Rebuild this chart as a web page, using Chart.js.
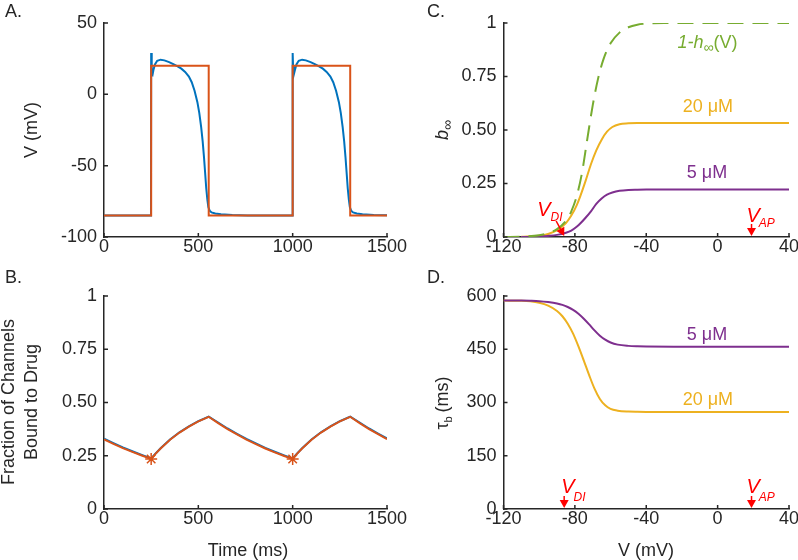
<!DOCTYPE html>
<html>
<head>
<meta charset="utf-8">
<script src="https://cdn.jsdelivr.net/npm/chart.js@4.4.1/dist/chart.umd.min.js"></script>
<style>
  html, body { margin: 0; padding: 0; background: #fff; }
  #wrap { position: relative; width: 798px; height: 560px; }
  #wrap canvas { position: absolute; left: 0; top: 0; }
</style>
</head>
<body>
<div id="wrap">
  <canvas id="chart-a" width="798" height="560"></canvas>
  <canvas id="chart-b" width="798" height="560"></canvas>
  <canvas id="chart-c" width="798" height="560"></canvas>
  <canvas id="chart-d" width="798" height="560"></canvas>
</div>
<script>
// ---------- Panel A: action potential (blue) and square clamp (orange)
const apTime = [0, 249, 250, 252, 254, 257, 262, 270, 282, 300, 320, 345, 370, 390, 410, 430, 450, 465, 480, 495,
  505, 515, 523, 530, 536, 542, 548, 553, 560, 570, 590, 620, 680, 760, 999,
  1000, 1002, 1004, 1007, 1012, 1020, 1032, 1050, 1070, 1095, 1120, 1140, 1160, 1180, 1200, 1215, 1230, 1245,
  1255, 1265, 1273, 1280, 1286, 1292, 1298, 1303, 1310, 1320, 1340, 1370, 1430, 1500];
const apVolt = [-85, -85, 29, 20, 14, 13.5, 17, 21, 23.5, 24.3, 23.8, 22.6, 21, 19.6, 18, 15.7, 12.5, 8.5, 2.5, -5.5,
  -13, -23, -33, -44, -55, -66, -74, -79, -81.5, -82.8, -83.5, -84.1, -84.6, -84.9, -85,
  29, 20, 14, 13.5, 17, 21, 23.5, 24.3, 23.8, 22.6, 21, 19.6, 18, 15.7, 12.5, 8.5, 2.5, -5.5,
  -13, -23, -33, -44, -55, -66, -74, -79, -81.5, -82.8, -83.5, -84.1, -84.6, -84.8];
const clampTime = [0, 250, 250, 555, 555, 1000, 1000, 1305, 1305, 1500];
const clampVolt = [-85, -85, 20, 20, -85, -85, 20, 20, -85, -85];
const aXTicks = [0, 500, 1000, 1500];
const aYTicks = [-100, -50, 0, 50];

// ---------- Panel B: fraction of channels bound to drug
const bTime = [0, 50, 100, 150, 200, 250, 275, 300, 350, 400, 450, 500, 555, 605, 655, 705, 755, 805, 855, 905, 955,
  1000, 1025, 1050, 1100, 1150, 1200, 1250, 1305, 1355, 1405, 1455, 1500];
const bBoundBlue = [0.330, 0.309, 0.289, 0.271, 0.254, 0.237, 0.262, 0.285, 0.326, 0.360, 0.388, 0.412, 0.434,
  0.406, 0.378, 0.353, 0.329, 0.308, 0.287, 0.269, 0.252, 0.237, 0.262, 0.285, 0.326, 0.360, 0.388, 0.412, 0.434,
  0.406, 0.378, 0.353, 0.331];
const bBoundOrange = [0.327, 0.306, 0.286, 0.268, 0.251, 0.235, 0.261, 0.284, 0.325, 0.359, 0.387, 0.411, 0.433,
  0.403, 0.375, 0.350, 0.326, 0.305, 0.284, 0.266, 0.249, 0.235, 0.261, 0.284, 0.325, 0.359, 0.387, 0.411, 0.433,
  0.403, 0.375, 0.350, 0.328];
const bMarkTime = [250, 1000];
const bMarkValue = [0.235, 0.235];
const bXTicks = [0, 500, 1000, 1500];
const bYTicks = [0, 0.25, 0.5, 0.75, 1];
const bYLabels = ['0', '0.25', '0.50', '0.75', '1'];

// ---------- Panel C: steady-state binding b_inf
const hInfVolt = [-120, -110, -100, -95, -90, -85, -82, -79, -76, -73, -70, -67, -64, -60, -55, -50, -45, -40, -30, 40];
const hInfComp = [0, 0.002, 0.008, 0.018, 0.037, 0.075, 0.12, 0.19, 0.3, 0.46, 0.615, 0.74, 0.83, 0.905, 0.955, 0.98, 0.992, 0.997, 1, 1];
const cVolt = [-110, -100, -95, -90, -85, -82, -79, -77, -74, -71, -68, -65, -62, -59, -55, -50, -45, -40, -20, 0, 20, 40];
const bInf20 = [0.001, 0.006, 0.014, 0.032, 0.065, 0.1, 0.148, 0.19, 0.262, 0.34, 0.405, 0.455, 0.492, 0.514, 0.527, 0.531, 0.533, 0.533, 0.533, 0.533, 0.533, 0.533];
const bInf5 = [0, 0.002, 0.005, 0.01, 0.02, 0.03, 0.048, 0.063, 0.09, 0.12, 0.155, 0.18, 0.198, 0.208, 0.216, 0.22, 0.221, 0.2215, 0.2215, 0.2215, 0.2215, 0.2215];
const vXTicks = [-120, -80, -40, 0, 40];
const cYTicks = [0, 0.25, 0.5, 0.75, 1];
const cYLabels = ['0', '0.25', '0.50', '0.75', '1'];

// ---------- Panel D: binding time constant tau_b
const dVolt = [-120, -110, -105, -100, -95, -90, -87, -84, -81, -78, -75, -72, -69, -66, -63, -60, -56, -50, -45, -40, -20, 0, 20, 40];
const tau20 = [587, 586.5, 585, 581, 573, 558, 543, 522, 494, 458, 418, 377, 339, 310, 292, 282, 277, 274.5, 273.8, 273.5, 273, 273, 273, 273];
const tau5 = [587.5, 587, 586.5, 585.5, 583, 579, 575, 569, 561, 550, 536, 520, 503, 488, 477, 469, 463, 459.5, 458.3, 457.8, 457.3, 457, 457, 457];
const dYTicks = [0, 150, 300, 450, 600];

const V_DI = -86;
const V_AP = 19;

const W = 798, H = 560;
const YW = 60, XH = 30;   // room kept for tick labels
const FONT = "'Liberation Sans', Arial, Helvetica, sans-serif";
const AXIS = '#262626';
const BLUE = '#0072BD', ORANGE = '#D95319', YELLOW = '#EDB120', PURPLE = '#7E2F8E', GREEN = '#77AC30', RED = '#FF0000';
const rg = s => `${s}px ${FONT}`;
const it = s => `italic ${s}px ${FONT}`;

Chart.defaults.font.family = FONT;
Chart.defaults.font.size = 18;
Chart.defaults.color = AXIS;

const pts = (xs, ys) => xs.map((x, i) => ({ x: x, y: ys[i] }));

// text made of several runs (italic, subscripts), optionally rotated
function drawRich(ctx, x, y, parts, rotate, align) {
  ctx.save();
  ctx.translate(x, y);
  if (rotate) ctx.rotate(-Math.PI / 2);
  ctx.textBaseline = 'alphabetic';
  ctx.textAlign = 'left';
  const widths = parts.map(p => { ctx.font = p.f; return ctx.measureText(p.t).width; });
  const w = parts.reduce((s, p, i) => s + widths[i] + (p.gap || 0), 0);
  let cx = align === 'center' ? -w / 2 : 0;
  parts.forEach((p, i) => {
    ctx.font = p.f;
    ctx.fillStyle = p.c || AXIS;
    ctx.fillText(p.t, cx, p.dy || 0);
    cx += widths[i] + (p.gap || 0);
  });
  ctx.restore();
}

function drawArrow(ctx, x1, y1, x2, y2) {
  const a = Math.atan2(y2 - y1, x2 - x1), L = 8, hw = 4.5;
  const bx = x2 - L * Math.cos(a), by = y2 - L * Math.sin(a);
  ctx.strokeStyle = RED; ctx.fillStyle = RED; ctx.lineWidth = 1.5;
  ctx.beginPath(); ctx.moveTo(x1, y1); ctx.lineTo(bx, by); ctx.stroke();
  ctx.beginPath();
  ctx.moveTo(x2, y2);
  ctx.lineTo(bx - hw * Math.sin(a), by + hw * Math.cos(a));
  ctx.lineTo(bx + hw * Math.sin(a), by - hw * Math.cos(a));
  ctx.closePath(); ctx.fill();
}

// inward ticks, panel letter, axis titles and annotations
function decor(cfg) {
  return {
    id: 'decor',
    afterDraw(chart) {
      const ctx = chart.ctx, area = chart.chartArea;
      const xs = chart.scales.x, ys = chart.scales.y;
      ctx.save();
      ctx.strokeStyle = AXIS; ctx.lineWidth = 1.5;
      ctx.beginPath();
      xs.ticks.forEach(t => { const p = xs.getPixelForValue(t.value); ctx.moveTo(p, area.bottom); ctx.lineTo(p, area.bottom - 4); });
      ys.ticks.forEach(t => { const p = ys.getPixelForValue(t.value); ctx.moveTo(area.left, p); ctx.lineTo(area.left + 4, p); });
      ctx.stroke();
      (cfg.texts || []).forEach(t => {
        let px = t.px, py = t.py;
        if (t.at) { px = xs.getPixelForValue(t.at[0]) + (t.dx || 0); py = ys.getPixelForValue(t.at[1]) + (t.dy || 0); }
        drawRich(ctx, px, py, t.parts, t.rotate, t.align);
      });
      (cfg.arrows || []).forEach(a => {
        const px = xs.getPixelForValue(a.at[0]), py = ys.getPixelForValue(a.at[1]);
        drawArrow(ctx, px + a.from[0], py + a.from[1], px + a.to[0], py + a.to[1]);
      });
      ctx.restore();
    }
  };
}

function axis(pos, min, max, tickVals, labels) {
  return {
    type: 'linear', position: pos, min: min, max: max,
    afterBuildTicks: s => { s.ticks = tickVals.map(v => ({ value: v })); },
    afterFit: s => {
      if (pos === 'left') s.width = YW; else s.height = XH;
      s.paddingLeft = s.paddingRight = s.paddingTop = s.paddingBottom = 0;
    },
    grid: { display: false, drawTicks: false },
    border: { display: true, color: AXIS, width: 1.5 },
    ticks: {
      padding: pos === 'left' ? 7 : 1.5, autoSkip: false, maxRotation: 0,
      font: { size: 18, lineHeight: 1 },
      callback: v => labels ? labels[tickVals.indexOf(v)] : String(v)
    }
  };
}

function options(area, x, y) {
  return {
    responsive: false, animation: false, events: [],
    layout: { padding: { left: area[0] - YW, top: area[1], right: W - area[2], bottom: H - area[3] - XH } },
    plugins: { legend: { display: false }, tooltip: { enabled: false } },
    scales: { x: x, y: y }
  };
}

function line(data, color, order, extra) {
  return Object.assign({ data: data, showLine: true, borderColor: color, borderWidth: 2, pointRadius: 0, order: order }, extra || {});
}

const smooth = { cubicInterpolationMode: 'monotone' };

// Panel A
new Chart(document.getElementById('chart-a'), {
  type: 'scatter',
  data: { datasets: [
    line(pts(apTime, apVolt), BLUE, 2),
    line(pts(clampTime, clampVolt), ORANGE, 1)
  ] },
  options: options([104, 23, 387, 237], axis('bottom', 0, 1500, aXTicks), axis('left', -100, 50, aYTicks)),
  plugins: [decor({
    texts: [
      { px: 5, py: 17, parts: [{ t: 'A.', f: rg(18) }] },
      { px: 36.5, py: 130, rotate: true, align: 'center', parts: [{ t: 'V (mV)', f: rg(18) }] }
    ]
  })]
});

// Panel B
new Chart(document.getElementById('chart-b'), {
  type: 'scatter',
  data: { datasets: [
    line(pts(bTime, bBoundBlue), BLUE, 3),
    line(pts(bTime, bBoundOrange), ORANGE, 2),
    { data: pts(bMarkTime, bMarkValue), showLine: false, pointStyle: 'star', pointRadius: 6,
      pointBorderColor: ORANGE, pointBorderWidth: 1.5, pointBackgroundColor: ORANGE, order: 1 }
  ] },
  options: options([104, 296, 387, 509], axis('bottom', 0, 1500, bXTicks), axis('left', 0, 1, bYTicks, bYLabels)),
  plugins: [decor({
    texts: [
      { px: 5, py: 283, parts: [{ t: 'B.', f: rg(18) }] },
      { px: 14, py: 402, rotate: true, align: 'center', parts: [{ t: 'Fraction of Channels', f: rg(18) }] },
      { px: 37, py: 402, rotate: true, align: 'center', parts: [{ t: 'Bound to Drug', f: rg(18) }] },
      { px: 248, py: 556, align: 'center', parts: [{ t: 'Time (ms)', f: rg(18) }] }
    ]
  })]
});

// Panel C
new Chart(document.getElementById('chart-c'), {
  type: 'scatter',
  data: { datasets: [
    line(pts(cVolt, bInf20), YELLOW, 3, smooth),
    line(pts(cVolt, bInf5), PURPLE, 2, smooth),
    line(pts(hInfVolt, hInfComp), GREEN, 1, Object.assign({ borderDash: [16, 9] }, smooth))
  ] },
  options: options([503.5, 23, 789, 237], axis('bottom', -120, 40, vXTicks), axis('left', 0, 1, cYTicks, cYLabels)),
  plugins: [decor({
    texts: [
      { px: 427, py: 17, parts: [{ t: 'C.', f: rg(18) }] },
      { px: 448, py: 130, rotate: true, align: 'center', parts: [{ t: 'b', f: it(18) }, { t: '\u221e', f: rg(14), dy: 4 }] },
      { at: [-22.5, 0.885], parts: [{ t: '1-h', f: it(18), c: GREEN }, { t: '\u221e', f: rg(14), dy: 4, c: GREEN }, { t: '(V)', f: rg(18), c: GREEN }] },
      { at: [-19.6, 0.583], parts: [{ t: '20 \u03bcM', f: rg(18), c: YELLOW }] },
      { at: [-17.3, 0.274], parts: [{ t: '5 \u03bcM', f: rg(18), c: PURPLE }] },
      { at: [V_DI, 0], dx: -27, dy: -21, parts: [{ t: 'V', f: it(20), c: RED }, { t: 'DI', f: it(12), dy: 5, c: RED }] },
      { at: [V_AP, 0], dx: -5, dy: -15, parts: [{ t: 'V', f: it(20), c: RED, gap: -1 }, { t: 'AP', f: it(12), dy: 5, c: RED }] }
    ],
    arrows: [
      { at: [V_DI, 0], from: [-8, -16], to: [0, -1] },
      { at: [V_AP, 0], from: [0, -13], to: [0, -1] }
    ]
  })]
});

// Panel D
new Chart(document.getElementById('chart-d'), {
  type: 'scatter',
  data: { datasets: [
    line(pts(dVolt, tau20), YELLOW, 2, smooth),
    line(pts(dVolt, tau5), PURPLE, 1, smooth)
  ] },
  options: options([503.5, 296, 789, 509], axis('bottom', -120, 40, vXTicks), axis('left', 0, 600, dYTicks)),
  plugins: [decor({
    texts: [
      { px: 427, py: 283, parts: [{ t: 'D.', f: rg(18) }] },
      { px: 448, py: 403, rotate: true, align: 'center', parts: [{ t: '\u03c4', f: rg(18) }, { t: 'b', f: rg(11), dy: 4, gap: 4 }, { t: '(ms)', f: rg(18) }] },
      { px: 646, py: 556, align: 'center', parts: [{ t: 'V (mV)', f: rg(18) }] },
      { at: [-17.3, 476], parts: [{ t: '5 \u03bcM', f: rg(18), c: PURPLE }] },
      { at: [-19.6, 293], parts: [{ t: '20 \u03bcM', f: rg(18), c: YELLOW }] },
      { at: [V_DI, 0], dx: -3, dy: -16, parts: [{ t: 'V', f: it(20), c: RED, gap: -1 }, { t: 'DI', f: it(12), dy: 8, c: RED }] },
      { at: [V_AP, 0], dx: -5, dy: -16, parts: [{ t: 'V', f: it(20), c: RED, gap: -1 }, { t: 'AP', f: it(12), dy: 8, c: RED }] }
    ],
    arrows: [
      { at: [V_DI, 0], from: [0, -13], to: [0, -1] },
      { at: [V_AP, 0], from: [0, -13], to: [0, -1] }
    ]
  })]
});
</script>
</body>
</html>
